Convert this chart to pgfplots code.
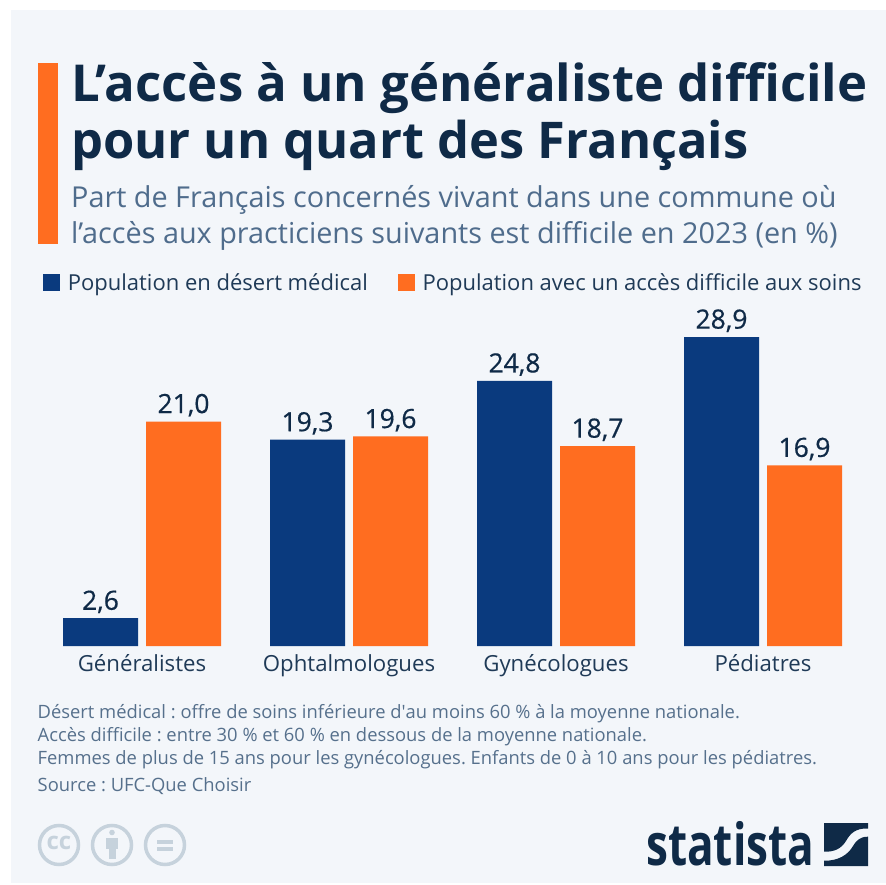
\documentclass[border=0pt]{standalone}
\usepackage{pgfplots}
\pgfplotsset{compat=1.18}
\usepackage{fontspec}
\setmainfont{Open Sans}
\newfontfamily\plainf{Open Sans}
\newfontfamily\semib{Open Sans}[FakeBold=0.5]
\usepackage{graphicx}
\frenchspacing
\definecolor{bgp}{HTML}{F3F6FA}
\definecolor{navy}{HTML}{0F2A47}
\definecolor{subt}{HTML}{4F6C8C}
\definecolor{foot}{HTML}{56708C}
\definecolor{txt}{HTML}{1F3A57}
\definecolor{blueb}{HTML}{0A3A7E}
\definecolor{orangeb}{HTML}{FF6D20}
\definecolor{ccg}{HTML}{C6D2DC}
\pgfplotstableread{
x a b
0 2.6 21.0
1 19.3 19.6
2 24.8 18.7
3 28.9 16.9
}\datatab
\begin{document}
\begin{tikzpicture}[x=1pt,y=-1pt]
\useasboundingbox (0,0) rectangle (886,885);
\fill[white] (0,0) rectangle (886,885);
\fill[bgp] (11,10) rectangle (886,883);
\fill[orangeb] (37.5,63) rectangle (58,244);
\node[anchor=base west,inner sep=0,font=\fontsize{50.9}{50.9}\selectfont\bfseries,text=navy] at (71,101.5) {L’accès à un généraliste difficile};
\node[anchor=base west,inner sep=0,font=\fontsize{50.6}{50.6}\selectfont\bfseries,text=navy] at (71,158.5) {pour un quart des Français};
\node[anchor=base west,inner sep=0,font=\fontsize{28.8}{28.8}\selectfont,text=subt] at (71,208) {Part de Français concernés vivant dans une commune où};
\node[anchor=base west,inner sep=0,font=\fontsize{28.8}{28.8}\selectfont,text=subt] at (71,244) {l’accès aux practiciens suivants est difficile en 2023 (en \%)};
\begin{axis}[
  at={(40pt,-646pt)},anchor=south west,
  scale only axis,width=826pt,height=320.7pt,
  xmin=-0.4928,xmax=3.4976,ymin=0,ymax=30,
  ybar,bar width=75pt,
  axis line style={draw=none},
  major tick length=0pt,
  ytick=\empty,
  xtick=data,
  xticklabels={Généralistes,Ophtalmologues,Gynécologues,Pédiatres},
  xticklabel style={font=\fontsize{22.2}{22.2}\selectfont,text=txt,yshift=-5pt},
  nodes near coords,
  point meta=explicit,
  every node near coord/.append style={font=\semib\fontsize{26.5}{26.5}\selectfont,text=navy,yshift=1.5pt,/pgf/number format/.cd,assume math mode=true,use comma,fixed,fixed zerofill,precision=1},
  clip=false,
  legend style={at={(0.0,1.132)},anchor=west,draw=none,fill=none,legend columns=2,font=\fontsize{22}{22}\selectfont,text=txt,nodes={inner xsep=8pt},/tikz/every even column/.append style={column sep=22pt}},
  legend image code/.code={\fill[#1] (0pt,-8.5pt) rectangle (16.7pt,8.5pt);},
]
\addplot[fill=blueb,draw=none,bar shift=-41.5pt] table[x=x,y=a,meta=a]{\datatab};
\addplot[fill=orangeb,draw=none,bar shift=41.5pt] table[x=x,y=b,meta=b]{\datatab};
\legend{Population en désert médical,Population avec un accès difficile aux soins}
\end{axis}
\begin{scope}[every node/.style={anchor=base west,inner sep=0,font=\fontsize{18.37}{18.37}\selectfont,text=foot}]
\node at (37.5,718) {Désert médical : offre de soins inférieure d{\plainf'}au moins 60 \% à la moyenne nationale.};
\node at (37.5,741) {Accès difficile : entre 30 \% et 60 \% en dessous de la moyenne nationale.};
\node at (37.5,764) {Femmes de plus de 15 ans pour les gynécologues. Enfants de 0 à 10 ans pour les pédiatres.};
\node at (37.5,791) {Source : UFC-Que Choisir};
\end{scope}
% cc icons
\draw[ccg,line width=3.5pt] (59,845) circle (19.5);
\draw[ccg,line width=3.5pt] (112,845) circle (19.5);
\draw[ccg,line width=3.5pt] (165,845) circle (19.5);
\node[font=\fontsize{24}{24}\selectfont\bfseries,text=ccg,inner sep=0] at (59,843) {cc};
\fill[ccg] (112,832.5) circle (2.8);
\fill[ccg] (106,837.5) rectangle (118,849);
\fill[ccg] (108.5,849) rectangle (115.5,858.5);
\fill[ccg] (157,839.5) rectangle (173,843.5);
\fill[ccg] (157,847) rectangle (173,851);
% statista
\node[anchor=base west,inner sep=0,text=navy] at (646,865.5) {\scalebox{0.76}[1]{\fontsize{58}{58}\selectfont\bfseries statista}};
\fill[navy] (824,823) -- (868,823) -- (868,828.5) .. controls (855,828) and (850,834) .. (846,841) .. controls (841,849) and (834,852) .. (824,851.7) -- cycle;
\fill[navy] (868,836.7) .. controls (860,836.5) and (856,841) .. (853,846) .. controls (848,855) and (838,861) .. (824,860.7) -- (824,866) -- (868,866) -- cycle;
\end{tikzpicture}
\end{document}
